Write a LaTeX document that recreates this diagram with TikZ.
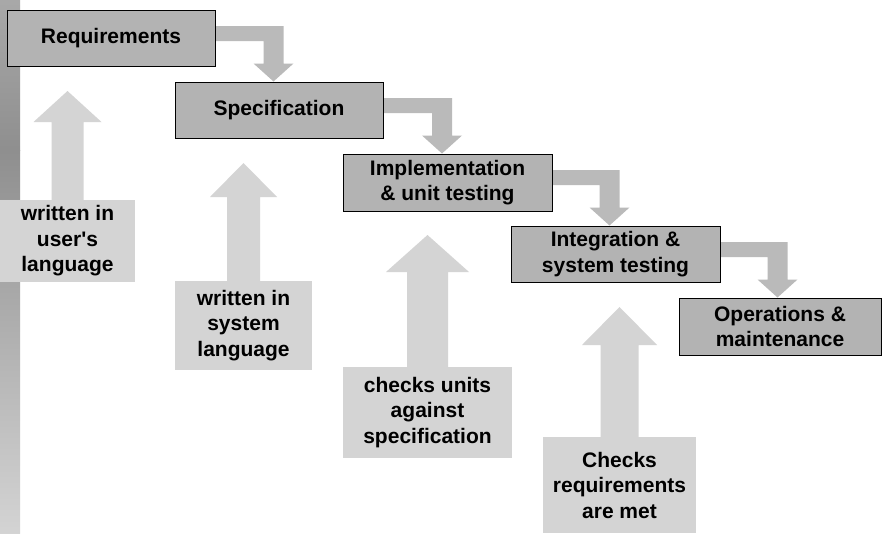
\documentclass[tikz,border=0pt]{standalone}
\usepackage{fontspec}
\setmainfont{Liberation Sans}[Ligatures=TeXOff]
\usetikzlibrary{calc,backgrounds}
\definecolor{stagefill}{HTML}{B3B3B3}
\definecolor{connfill}{HTML}{BABABA}
\definecolor{lightfill}{HTML}{D4D4D4}
\tikzset{
  stage/.style={draw=black, line width=1pt, fill=stagefill, inner sep=0pt, align=center,
    font=\fontsize{21}{25.5}\selectfont\bfseries},
  note/.style={fill=lightfill, inner sep=0pt, align=center,
    font=\fontsize{21}{25.5}\selectfont\bfseries},
  conn/.style={fill=connfill},
  uparrowfill/.style={fill=lightfill}
}
\newcommand\elbowarrow[3]{%
  \fill[conn] let \p1=(#1.north east), \p2=(#2.north west) in
   (\x1,\y1-16.5pt) -- (\x2+#3pt+10pt,\y1-16.5pt) -- (\x2+#3pt+10pt,\y2+18pt)
   -- (\x2+#3pt+20pt,\y2+18pt) -- (\x2+#3pt,\y2) -- (\x2+#3pt-20pt,\y2+18pt)
   -- (\x2+#3pt-10pt,\y2+18pt) -- (\x2+#3pt-10pt,\y1-31.5pt) -- (\x1,\y1-31.5pt) -- cycle;}
\newcommand\notearrow[5]{%
  \fill[uparrowfill] let \p1=(#1.north), \p2=(#2) in
   (\x1-#3pt,\y1) -- (\x1-#3pt,\y2-#5pt) -- (\x1-#4pt,\y2-#5pt) -- (\x2,\y2)
   -- (\x1+#4pt,\y2-#5pt) -- (\x1+#3pt,\y2-#5pt) -- (\x1+#3pt,\y1) -- cycle;}
\begin{document}
\begin{tikzpicture}[x=1pt,y=-1pt]
\useasboundingbox (0,0) rectangle (882,533);

% stages
\node[stage, minimum width=208pt, minimum height=56pt] (req) at (111,38) {Requirements};
\node[stage, minimum width=208pt, minimum height=56pt] (spec) at (279,110) {Specification};
\node[stage, minimum width=209pt, minimum height=57pt] (impl) at (447.5,182.5) {Implementation\\\& unit testing};
\node[stage, minimum width=209pt, minimum height=56pt] (integ) at (615.5,254) {Integration \&\\system testing};
\node[stage, minimum width=202pt, minimum height=57pt] (ops) at (780,326.5) {Operations \&\\maintenance};

% notes
\node[note, minimum width=135pt, minimum height=82pt] (n1) at (67.5,241) {written in\\user's\\language};
\node[note, minimum width=137pt, minimum height=89pt] (n2) at (243.5,325.5) {written in\\system\\language};
\node[note, minimum width=169pt, minimum height=91pt] (n3) at (427.5,412.5) {checks units\\against\\specification};
\node[note, minimum width=153pt, minimum height=96pt] (n4) at (619.5,485) {Checks\\requirements\\are met};

\coordinate (t1) at (67.5,91);
\coordinate (t2) at (243.5,163);
\coordinate (t3) at (427.5,235);
\coordinate (t4) at (619.5,307);

\begin{scope}[on background layer]
  \fill[white] (0,0) rectangle (882,533);
  % textured strip on the left
  \shade[top color=black!34, bottom color=black!44] (0,0) rectangle (20,150);
  \shade[top color=black!44, bottom color=black!17] (0,150) rectangle (20,533);
  \elbowarrow{req}{spec}{99}
  \elbowarrow{spec}{impl}{99.5}
  \elbowarrow{impl}{integ}{99}
  \elbowarrow{integ}{ops}{99}
  \notearrow{n1}{t1}{16}{34}{31}
  \notearrow{n2}{t2}{16.5}{33.5}{34}
  \notearrow{n3}{t3}{20.5}{41.5}{37}
  \notearrow{n4}{t4}{19}{37.5}{38}
\end{scope}
\end{tikzpicture}
\end{document}
